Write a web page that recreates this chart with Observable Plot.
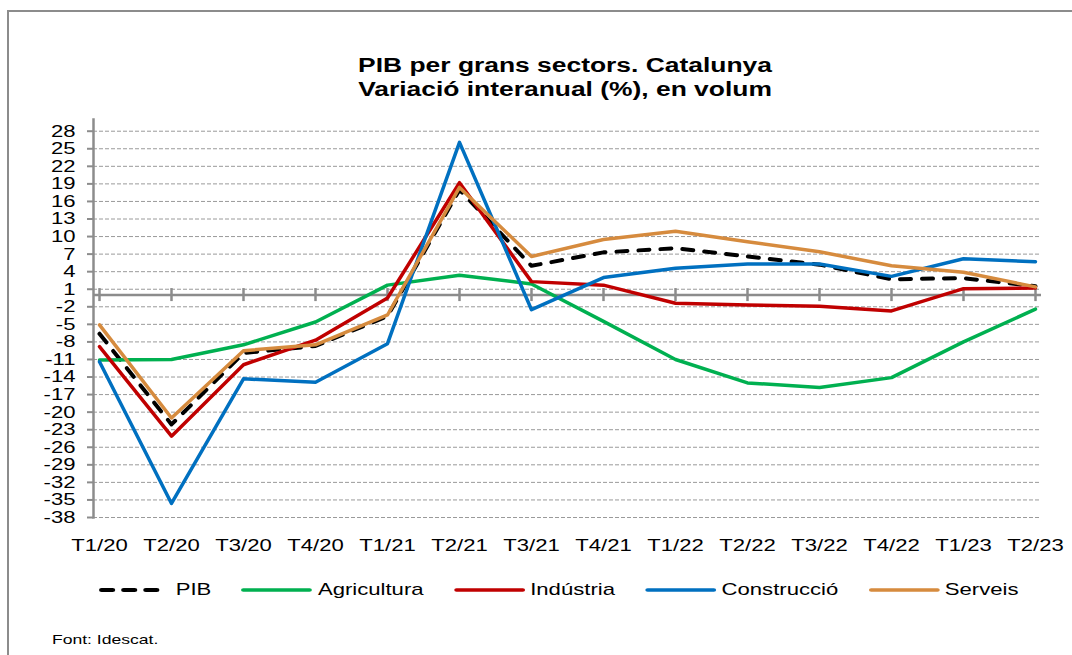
<!DOCTYPE html>
<html><head><meta charset="utf-8">
<script src="https://cdn.jsdelivr.net/npm/d3@7"></script>
<script src="https://cdn.jsdelivr.net/npm/@observablehq/plot@0.6"></script>
<style>
body{margin:0;background:#fff;font-family:"Liberation Sans",Arial,sans-serif;color:#000;}
#wrap{position:relative;width:1072px;height:655px;overflow:hidden;background:#fff;}
#frame{position:absolute;left:7px;top:10px;right:-5px;bottom:-5px;border-left:2px solid #8c8c8c;border-top:2px solid #8c8c8c;}
#title{position:absolute;left:565px;top:54px;transform:translateX(-50%) scaleX(1.32);font-weight:bold;font-size:20px;line-height:23.5px;text-align:center;white-space:nowrap;}
#chart{position:absolute;left:0;top:100px;}
#legend{position:absolute;left:99px;top:579px;height:22px;display:flex;align-items:center;gap:23px;transform:scaleX(1.3);transform-origin:0 50%;font-size:17px;white-space:nowrap;}
.item{display:flex;align-items:center;gap:4px;}
.item svg{display:block;}
#source{position:absolute;left:52px;top:632px;font-size:13px;line-height:15px;transform:scaleX(1.35);transform-origin:0 50%;white-space:nowrap;}
</style></head>
<body>
<div id="wrap">
  <div id="frame"></div>
  <div id="title">PIB per grans sectors. Catalunya<br>Variació interanual (%), en volum</div>
  <div id="chart"></div>
  <div id="legend"></div>
  <div id="source">Font: Idescat.</div>
</div>
<script>
const categories = ["T1/20","T2/20","T3/20","T4/20","T1/21","T2/21","T3/21","T4/21","T1/22","T2/22","T3/22","T4/22","T1/23","T2/23"];
const pib         = [-6.6, -22.1,  -9.9, -8.7, -3.6, 18.0,  5.0, 7.3,   8.0,   6.6,   5.2,   2.7,  2.9,  1.5];
const agricultura = [-11.1, -11.0, -8.5, -4.6,  1.7,  3.4,  1.9, -4.5, -11.0, -15.0, -15.8, -14.1, -8.0, -2.4];
const industria   = [-8.8, -24.1, -11.9, -7.7, -0.5, 19.2,  2.3, 1.7,  -1.4,  -1.7,  -1.9,  -2.7,  1.1,  1.2];
const construccio = [-11.4, -35.6, -14.3, -14.9, -8.3, 26.1, -2.5, 3.0,  4.6,   5.3,   5.3,   3.2,  6.2,  5.7];
const serveis     = [-5.1, -21.0,  -9.5, -8.5, -3.4, 18.4,  6.6, 9.5,  10.9,   9.1,   7.4,   5.0,  3.9,  1.4];

const seriesNames  = ["PIB","Agricultura","Indústria","Construcció","Serveis"];
const seriesColors = ["#000000","#00b050","#c00000","#0070c0","#d68b3e"];
const seriesValues = [pib, agricultura, industria, construccio, serveis];
const yTicks  = d3.range(-38, 29, 3);
const yDomain = [-38, 30];

const rows = seriesNames.flatMap((name, s) =>
  categories.map((c, i) => ({serie: name, periode: c, valor: seriesValues[s][i]})));

const FONT = '"Liberation Sans", Arial, sans-serif';
const STRETCH = 1.3;

const lineMarks = seriesNames.map((name, s) =>
  Plot.line(rows.filter(d => d.serie === name), {
    x: "periode", y: "valor",
    stroke: seriesColors[s],
    strokeWidth: name === "PIB" ? 4 : 3.5,
    strokeDasharray: name === "PIB" ? "11,11" : null,
    strokeLinecap: "round",
    strokeLinejoin: "round"
  }));

const chart = Plot.plot({
  width: 1072, height: 460,
  marginLeft: 93, marginRight: 31, marginTop: 19, marginBottom: 43,
  style: {fontFamily: FONT, fontSize: "17px", color: "#000", background: "transparent"},
  x: {type: "point", domain: categories, padding: 0, label: null},
  y: {domain: yDomain, label: null},
  marks: [
    Plot.gridY(yTicks, {stroke: "#9a9a9a", strokeOpacity: 1, strokeWidth: 1, strokeDasharray: "4,2"}),
    Plot.ruleY([0], {stroke: "#8c8c8c", strokeWidth: 2.5}),
    Plot.ruleX(categories, {x: d => d, y1: 0, y2: 0, insetTop: -6.5, insetBottom: -6.5, stroke: "#8c8c8c", strokeWidth: 2.5}),
    Plot.frame({anchor: "left", stroke: "#8c8c8c", strokeWidth: 2.5}),
    ...lineMarks,
    Plot.axisY(yTicks, {tickSize: 6, tickPadding: 12, stroke: "#8c8c8c", strokeWidth: 2, fontSize: 17, fill: "#000", tickFormat: d => String(d), label: null}),
    Plot.axisX({tickSize: 0, tickPadding: 21, fontSize: 17, fill: "#000", label: null})
  ]
});
document.getElementById("chart").appendChild(chart);

// horizontal stretch of tick labels (about each label's anchor), like the reference
for (const t of chart.querySelectorAll('g[aria-label$="tick label"] text')) {
  const b = t.getBBox();
  const anchor = getComputedStyle(t).textAnchor;
  const cx = anchor === "end" ? b.x + b.width : anchor === "start" ? b.x : b.x + b.width / 2;
  const tr = t.getAttribute("transform") || "";
  t.setAttribute("transform", `${tr} translate(${cx},0) scale(${STRETCH},1) translate(${-cx},0)`.trim());
}

// legend
const legend = document.getElementById("legend");
seriesNames.forEach((name, s) => {
  const item = document.createElement("div");
  item.className = "item";
  const dash = name === "PIB" ? ' stroke-dasharray="8.5,8.5"' : "";
  const sw = name === "PIB" ? 4 : 3.5;
  item.innerHTML = `<svg width="55" height="10"><line x1="2" y1="5" x2="53" y2="5" stroke="${seriesColors[s]}" stroke-width="${sw}" stroke-linecap="round"${dash}/></svg><span>${name}</span>`;
  legend.appendChild(item);
});
</script>
</body></html>
